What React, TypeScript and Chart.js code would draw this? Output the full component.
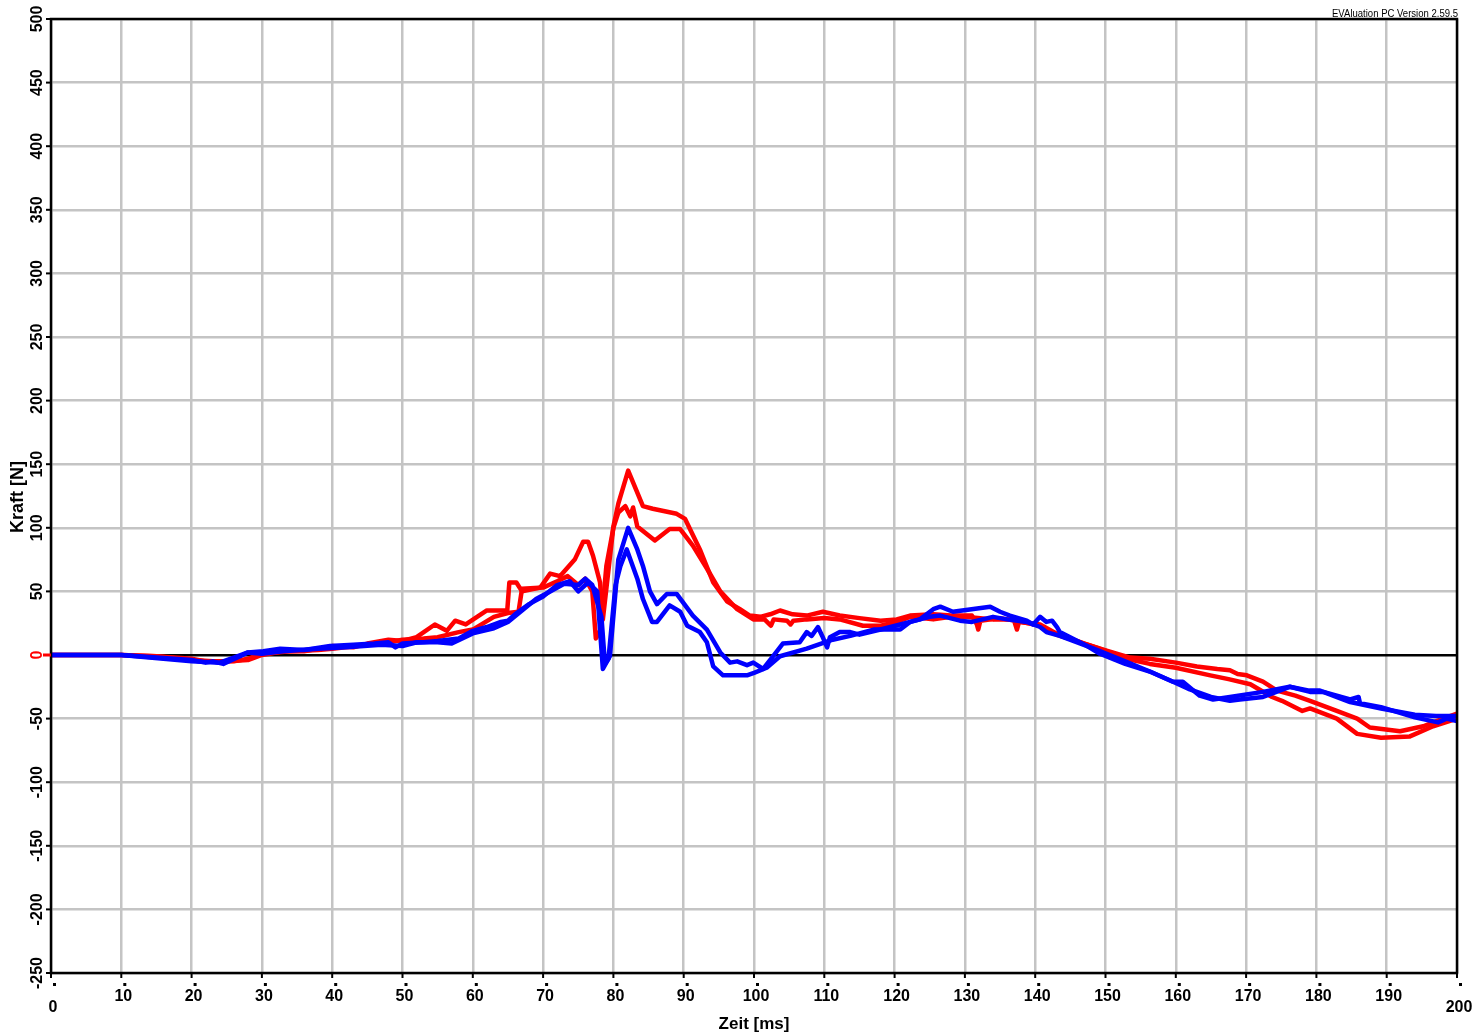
import React, { useEffect, useRef } from "react";
import { Chart, registerables } from "chart.js";

Chart.register(...registerables);

// Time [ms] / force [N] samples
const redA: [number, number][] = [
  [0, 0], [10, 0], [15, -1], [20, -3], [22, -5], [25, -5], [28, -4], [30, 0], [33, 3], [36, 3],
  [40, 7], [43, 6], [45, 9], [48, 12], [50, 11], [52, 14], [54.6, 24], [56.3, 19], [57.5, 27], [59, 24],
  [62, 35], [64.9, 35], [65.2, 57], [66.2, 57], [67, 50], [69.6, 53], [71, 64], [72.4, 62], [74.5, 75], [75.7, 89],
  [76.4, 89], [77.1, 78], [78.1, 57], [78.5, 28], [80, 101], [80.7, 119], [82.1, 145], [84.2, 117], [85.6, 115], [89, 111],
  [90.2, 107], [92.3, 83], [94.2, 57], [96.2, 42], [98, 36], [99.4, 31], [100.9, 30], [102.3, 32], [103.7, 35], [105.5, 32],
  [107.5, 31], [109.8, 34], [112.2, 31], [115, 29], [118, 27], [120.3, 28], [122.2, 31], [125.5, 32], [128, 31], [131, 31],
  [131.7, 24], [131.9, 20], [132.2, 27], [135, 29], [137, 27], [137.4, 20], [137.7, 26], [140.7, 24], [143, 17], [147, 9],
  [149.2, 5], [153.5, -2], [156.3, -3], [160, -6], [163, -9], [165.9, -11], [167.7, -12], [168.8, -15], [170.1, -16], [172.4, -21],
  [174.4, -28], [177, -32], [179.1, -36], [182.9, -44], [185.8, -50], [187.6, -57], [191.9, -60], [195.2, -56], [198, -50], [200, -46],
];

const redB: [number, number][] = [
  [0, 0], [10, 0], [15, -1], [20, -4], [23, -5], [26, -5], [28, -3], [30, 1], [34, 3], [38, 4],
  [40, 5], [45, 8], [48, 10], [50, 12], [53, 13], [55, 14], [58, 18], [60, 20], [63, 30], [65, 33],
  [66.5, 34], [67, 52], [70, 53], [72, 58], [73.5, 62], [75, 55], [76, 60], [77, 50], [77.5, 13], [78.2, 20],
  [79, 70], [80, 100], [80.7, 112], [81.7, 117], [82.4, 109], [82.8, 116], [83.4, 101], [85.9, 90], [88, 99], [89.5, 99],
  [91.3, 86], [93.3, 68], [95.2, 50], [97.6, 36], [99.9, 28], [101.5, 28], [102.4, 23], [102.8, 28], [104.7, 27], [105.2, 24],
  [105.6, 27], [107.5, 28], [110, 29], [112.2, 28], [115.5, 23], [118, 23], [120.3, 26], [122.2, 30], [125.5, 28], [128, 30],
  [130, 30], [134, 28], [136.4, 28], [140.7, 23], [143, 16], [147, 9], [149.2, 5], [153, -3], [156.3, -7], [160, -10],
  [164.9, -16], [167.5, -19], [170.6, -23], [173.7, -33], [175.1, -36], [178, -44], [179.1, -42], [182.9, -50], [185.8, -62], [189.2, -65],
  [193.3, -64], [196.6, -56], [200, -50],
];

const blueA: [number, number][] = [
  [0, 0], [10, 0], [15, -2], [20, -4], [22, -6], [23, -5], [24.5, -7], [26.9, -1], [28, 2], [30.2, 3],
  [32.6, 5], [36, 4], [39.7, 7], [43, 8], [46, 9], [48, 10], [49, 6], [50, 9], [53, 10], [55, 11],
  [58, 13], [60, 19], [62, 22], [64, 26], [65, 27], [66, 32], [68, 40], [70, 46], [72, 55], [73.8, 58],
  [75, 50], [76.4, 57], [77.7, 50], [78.5, -11], [79.5, -1], [80.7, 75], [82.1, 100], [83.4, 83], [84.2, 70], [85.2, 50],
  [86.2, 40], [87.6, 48], [89, 48], [91.3, 31], [93.3, 20], [95.2, 2], [96.6, -6], [97.6, -5], [99, -8], [99.9, -6],
  [101.3, -11], [102.7, -1], [104.1, 9], [106.5, 10], [107.5, 18], [108.2, 15], [109.1, 22], [109.7, 15], [110.4, 6], [110.8, 14],
  [112.2, 18], [113.7, 18], [115, 16], [118, 20], [120.8, 24], [123.6, 28], [125.5, 36], [126.5, 38], [128.3, 34], [133.6, 38],
  [135, 34], [136.4, 31], [138.8, 27], [139.7, 24], [140.7, 30], [141.6, 26], [142.4, 27], [143.1, 22], [143.5, 18], [147.4, 7],
  [149.2, 1], [152.8, -7], [156.3, -13], [159.6, -21], [161, -21], [163.4, -32], [165.3, -35], [167.7, -33], [172.4, -29], [176.2, -25],
  [179.1, -29], [181, -29], [184.8, -35], [186, -33], [186.2, -38], [189.2, -41], [194, -49], [197.3, -53], [198.5, -50], [200, -52],
];

const blueB: [number, number][] = [
  [0, 0], [10, 0], [20, -5], [24, -6], [26, -2], [28, 2], [30, 1], [33, 3], [38, 5], [42, 6],
  [47, 8], [50, 7], [52, 10], [55, 10], [57, 9], [60, 17], [63, 21], [65, 26], [67, 35], [69, 44],
  [71, 50], [73, 56], [75, 55], [76, 60], [77, 55], [78.3, 30], [78.8, -7], [79.3, -3], [80.3, 55], [81, 70],
  [81.9, 83], [83.4, 60], [84.2, 44], [85.5, 26], [86.2, 26], [88, 39], [89.5, 34], [90.5, 23], [92.3, 18], [93.3, 10],
  [94.2, -9], [95.6, -16], [99, -16], [100, -14], [101.8, -10], [103.7, -1], [107.5, 5], [111.2, 12], [113.7, 15], [117, 20],
  [120.8, 20], [122.2, 26], [125, 30], [126.5, 31], [129.3, 27], [131, 26], [134, 30], [136, 28], [138.8, 26], [140.7, 22],
  [141.6, 18], [143.5, 15], [147.4, 7], [149.2, 3], [152.8, -5], [156.3, -13], [159.6, -21], [162, -27], [165, -33], [167.7, -36],
  [169.1, -35], [172.4, -33], [176.2, -25], [179, -28], [180.5, -28], [184.8, -37], [189.2, -42], [194, -47], [197, -48], [200, -48],
];

const xTicks = [0, 10, 20, 30, 40, 50, 60, 70, 80, 90, 100, 110, 120, 130, 140, 150, 160, 170, 180, 190, 200];
const yTicks = [500, 450, 400, 350, 300, 250, 200, 150, 100, 50, 0, -50, -100, -150, -200, -250];
const xTitle = "Zeit [ms]";
const yTitle = "Kraft [N]";
const versionText = "EVAluation PC Version 2.59.5";

const FONT = "'Liberation Sans', Arial, sans-serif";

const decorPlugin = {
  id: "decor",
  afterDraw(chart: any) {
    const ctx = chart.ctx as CanvasRenderingContext2D;
    const area = chart.chartArea;
    const xs = chart.scales.x;
    const ys = chart.scales.y;
    ctx.save();
    // frame
    ctx.strokeStyle = "#000";
    ctx.lineWidth = 2.5;
    ctx.strokeRect(area.left, area.top, area.right - area.left, area.bottom - area.top);

    // tick dots
    ctx.fillStyle = "#000";
    xTicks.forEach((t) => {
      const px = xs.getPixelForValue(t);
      ctx.fillRect(px - 1, area.bottom, 2, 5);
      ctx.fillRect(px + 2, area.bottom + 10, 3, 3);
    });
    yTicks.forEach((v) => {
      const py = ys.getPixelForValue(v);
      ctx.fillRect(area.left - 5, py - 1, 5, 2);
    });

    // x tick labels
    ctx.font = `bold 16px ${FONT}`;
    ctx.textAlign = "center";
    ctx.textBaseline = "middle";
    xTicks.forEach((t) => {
      const px = xs.getPixelForValue(t);
      const edge = t === 0 || t === 200;
      ctx.fillText(String(t), px + 2, edge ? 1008 : 997);
    });

    // y tick labels (rotated)
    yTicks.forEach((v) => {
      const py = ys.getPixelForValue(v);
      ctx.save();
      ctx.translate(38, py);
      ctx.rotate(-Math.PI / 2);
      ctx.fillStyle = v === 0 ? "#ff0000" : "#000";
      ctx.fillText(String(v), 0, 0);
      ctx.restore();
    });
    // red zero marker line
    const py0 = ys.getPixelForValue(0);
    ctx.strokeStyle = "#ff0000";
    ctx.lineWidth = 3;
    ctx.beginPath();
    ctx.moveTo(43, py0);
    ctx.lineTo(area.left, py0);
    ctx.stroke();

    // titles
    ctx.fillStyle = "#000";
    ctx.font = `bold 17px ${FONT}`;
    ctx.fillText(xTitle, (area.left + area.right) / 2 + 0, 1024);
    ctx.save();
    ctx.translate(18, 497);
    ctx.rotate(-Math.PI / 2);
    ctx.font = `bold 18px ${FONT}`;
    ctx.fillText(yTitle, 0, 0);
    ctx.restore();

    // version
    ctx.font = `11px ${FONT}`;
    ctx.textAlign = "right";
    ctx.textBaseline = "alphabetic";
    ctx.fillText(versionText, 1458, 17, 126);
    ctx.restore();
  },
};

const toXY = (arr: [number, number][]) => arr.map(([x, y]) => ({ x, y }));

const lineStyle = {
  borderWidth: 4.5,
  pointRadius: 0,
  fill: false,
  tension: 0,
  borderJoinStyle: "round" as const,
  borderCapStyle: "round" as const,
};

export default function App() {
  const ref = useRef<HTMLCanvasElement | null>(null);
  useEffect(() => {
    if (!ref.current) return;
    const chart = new Chart(ref.current, {
      type: "line",
      data: {
        datasets: [
          { label: "blueA", data: toXY(blueA), borderColor: "#0000ff", ...lineStyle },
          { label: "blueB", data: toXY(blueB), borderColor: "#0000ff", ...lineStyle },
          { label: "redA", data: toXY(redA), borderColor: "#ff0000", ...lineStyle },
          { label: "redB", data: toXY(redB), borderColor: "#ff0000", ...lineStyle },
        ],
      },
      options: {
        responsive: false,
        animation: false,
        layout: { padding: { left: 51, right: 18, top: 19, bottom: 62 } },
        plugins: { legend: { display: false }, tooltip: { enabled: false } },
        scales: {
          x: {
            type: "linear",
            min: 0,
            max: 200,
            ticks: { display: false, stepSize: 10 },
            grid: { color: "#c4c4c4", lineWidth: 2.5, drawTicks: false },
            border: { display: false },
          },
          y: {
            type: "linear",
            min: -250,
            max: 500,
            ticks: { display: false, stepSize: 50 },
            grid: {
              color: (c: any) => (c.tick && c.tick.value === 0 ? "#000" : "#c4c4c4"),
              lineWidth: 2.5,
              drawTicks: false,
            },
            border: { display: false },
          },
        },
      },
      plugins: [decorPlugin],
    });
    return () => chart.destroy();
  }, []);
  return (
    <div style={{ position: "absolute", left: 0, top: 0 }}>
      <canvas ref={ref} width={1475} height={1035} style={{ display: "block" }} />
    </div>
  );
}
